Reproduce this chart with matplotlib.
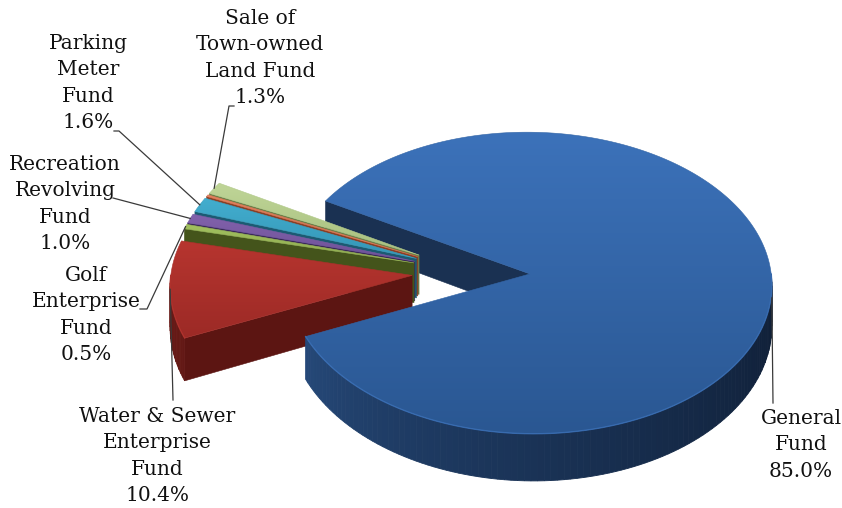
import numpy as np
import matplotlib
matplotlib.use('Agg')
import matplotlib.pyplot as plt
from matplotlib.patches import Polygon
from matplotlib.colors import LinearSegmentedColormap, to_rgb

# fund shares, in the order the slices run clockwise from the top-left
funds = ['General\nFund', 'Water & Sewer\nEnterprise\nFund', 'Golf\nEnterprise\nFund',
         'Recreation\nRevolving\nFund', 'Parking\nMeter\nFund', '',
         'Sale of\nTown-owned\nLand Fund']
shares = [85.0, 10.4, 0.5, 1.0, 1.6, 0.2, 1.3]

top_light = ['#3C72BA', '#B7352F', '#A2C060', '#8262AC', '#43AECF', '#E6825F', '#BFD597']
top_dark = ['#2A5792', '#9C2A26', '#8DAA4C', '#6E5197', '#3496B6', '#CC6C4C', '#A7BF7E']
side_light = ['#2F5B96', '#6E1C18', '#4A5B1E', '#433063', '#20647E', '#94462B', '#76894F']
side_dark = ['#0F1E35', '#4A100E', '#3A4816', '#33244D', '#174C60', '#7A3822', '#5E6E3E']
cut_colors = ['#1A3152', '#5C1512', '#44541B', '#3A2858', '#1C5A72', '#8A3F25', '#6C7F48']

# label block centres and leader bends
label_pos = [(801, 445), (157, 456), (86, 315), (65, 204), (88, 83), None, (260, 58)]
leader_pts = [[(773, 403)], [(173, 400)], [(147, 309), (140, 309)], [(113, 198)],
              [(119, 131), (114, 131)], None, [(229, 106), (234, 106)]]
anchor_z = [0.4, 0, 0, 0, 0, 0, 0]

# projection of the unit disc onto the page (pixel coordinates)
CX, CY = 471, 272
A, B = 241, 150
K = 0.06          # perspective: far side slightly smaller
H, KH = 40, 0.15  # wall height
EXPLODE = 0.245
START = 150.0


def proj(x, y, z):
    s = 1 + K * y
    th = H / (1 + KH * y)
    return CX + A * x / s, CY - B * y / s + z * th


def arc(ox, oy, t0, t1, z, step=0.5):
    n = max(2, int(abs(t1 - t0) / step) + 2)
    ts = np.radians(np.linspace(t0, t1, n))
    return [proj(ox + np.cos(t), oy + np.sin(t), z) for t in ts]


def front_ranges(t0, t1):
    out = []
    for k in range(-2, 2):
        lo, hi = 180 + 360 * k, 360 + 360 * k
        a, b = max(t0, lo), min(t1, hi)
        if b > a:
            out.append((a, b))
    return out


def mix(c0, c1, f):
    c0, c1 = np.array(to_rgb(c0)), np.array(to_rgb(c1))
    return tuple(c0 + (c1 - c0) * f)


fig = plt.figure(figsize=(8.42, 5.08), dpi=100)
ax = fig.add_axes([0, 0, 1, 1])


def grad_fill(verts, c0, c1, z):
    poly = Polygon(verts, closed=True, facecolor='none', edgecolor='none', zorder=z)
    ax.add_patch(poly)
    xs, ys = zip(*verts)
    g = np.linspace(0, 1, 256).reshape(-1, 1)
    cmap = LinearSegmentedColormap.from_list('g', [c0, c1])
    im = ax.imshow(g, cmap=cmap, extent=(min(xs), max(xs), max(ys), min(ys)),
                   origin='upper', aspect='auto', zorder=z, interpolation='bilinear')
    im.set_clip_path(poly)
    ax.add_patch(Polygon(verts, closed=True, facecolor='none', edgecolor=mix(c0, c1, 0.5),
                         lw=0.4, zorder=z))


# slice geometry
slices = []
cum = 0.0
for i, v in enumerate(shares):
    t_hi = START - cum * 3.6
    t_lo = t_hi - v * 3.6
    cum += v
    mid = np.radians((t_lo + t_hi) / 2)
    slices.append((t_lo, t_hi, EXPLODE * np.cos(mid), EXPLODE * np.sin(mid)))

zc = [1]


def draw_cut(i):
    t_lo, t_hi, ox, oy = slices[i]
    if np.cos(np.radians(t_hi)) < 0:
        t = np.radians(t_hi)
        ex, ey = ox + np.cos(t), oy + np.sin(t)
        verts = [proj(ox, oy, 0), proj(ex, ey, 0), proj(ex, ey, 1), proj(ox, oy, 1)]
        c = cut_colors[i]
        ax.add_patch(Polygon(verts, closed=True, facecolor=c, edgecolor=c, lw=0.4, zorder=zc[0]))
        zc[0] += 1


def draw_rim(i):
    t_lo, t_hi, ox, oy = slices[i]
    for a, b in front_ranges(t_lo, t_hi):
        edges = np.linspace(a, b, max(2, int((b - a) / 1.5) + 2))
        for e0, e1 in zip(edges[:-1], edges[1:]):
            top = arc(ox, oy, e0, e1, 0, step=0.5)
            bot = arc(ox, oy, e1, e0, 1, step=0.5)
            f = (((e0 + e1) / 2) % 360 - 180) / 180
            c = mix(side_light[i], side_dark[i], max(f, 0) ** 0.6)
            ax.add_patch(Polygon(top + bot, closed=True, facecolor=c, edgecolor=c,
                                 lw=0.6, zorder=zc[0]))
        zc[0] += 1


def draw_top(i):
    t_lo, t_hi, ox, oy = slices[i]
    verts = [proj(ox, oy, 0)] + arc(ox, oy, t_lo, t_hi, 0)
    grad_fill(verts, top_light[i], top_dark[i], zc[0])
    zc[0] += 1
    # soft highlight where the top meets the front wall
    for a, b in front_ranges(t_lo, t_hi):
        pts = arc(ox, oy, a, b, 0)
        ax.plot([p[0] for p in pts], [p[1] for p in pts], color=top_light[i],
                lw=1.0, alpha=0.7, zorder=zc[0])
    zc[0] += 1


# back faces first, front faces last
draw_cut(0)
for i in range(len(shares) - 1, 0, -1):
    draw_cut(i)
    draw_rim(i)
    draw_top(i)
draw_rim(0)
draw_top(0)

# labels and leader lines
for i, name in enumerate(funds):
    if label_pos[i] is None:
        continue
    t_lo, t_hi, ox, oy = slices[i]
    t = np.radians((t_lo + t_hi) / 2)
    ax0 = proj(ox + np.cos(t), oy + np.sin(t), anchor_z[i])
    pts = [ax0] + leader_pts[i]
    ax.plot([p[0] for p in pts], [p[1] for p in pts], color='#3a3a3a', lw=0.9, zorder=50)
    ax.text(label_pos[i][0], label_pos[i][1], f'{name}\n{shares[i]:.1f}%',
            ha='center', va='center', fontsize=14.5, family='DejaVu Serif',
            color='#111111', linespacing=1.5, zorder=60)

ax.set_xlim(0, 842)
ax.set_ylim(508, 0)
ax.axis('off')
fig.savefig('out.png', dpi=100, facecolor='white')
